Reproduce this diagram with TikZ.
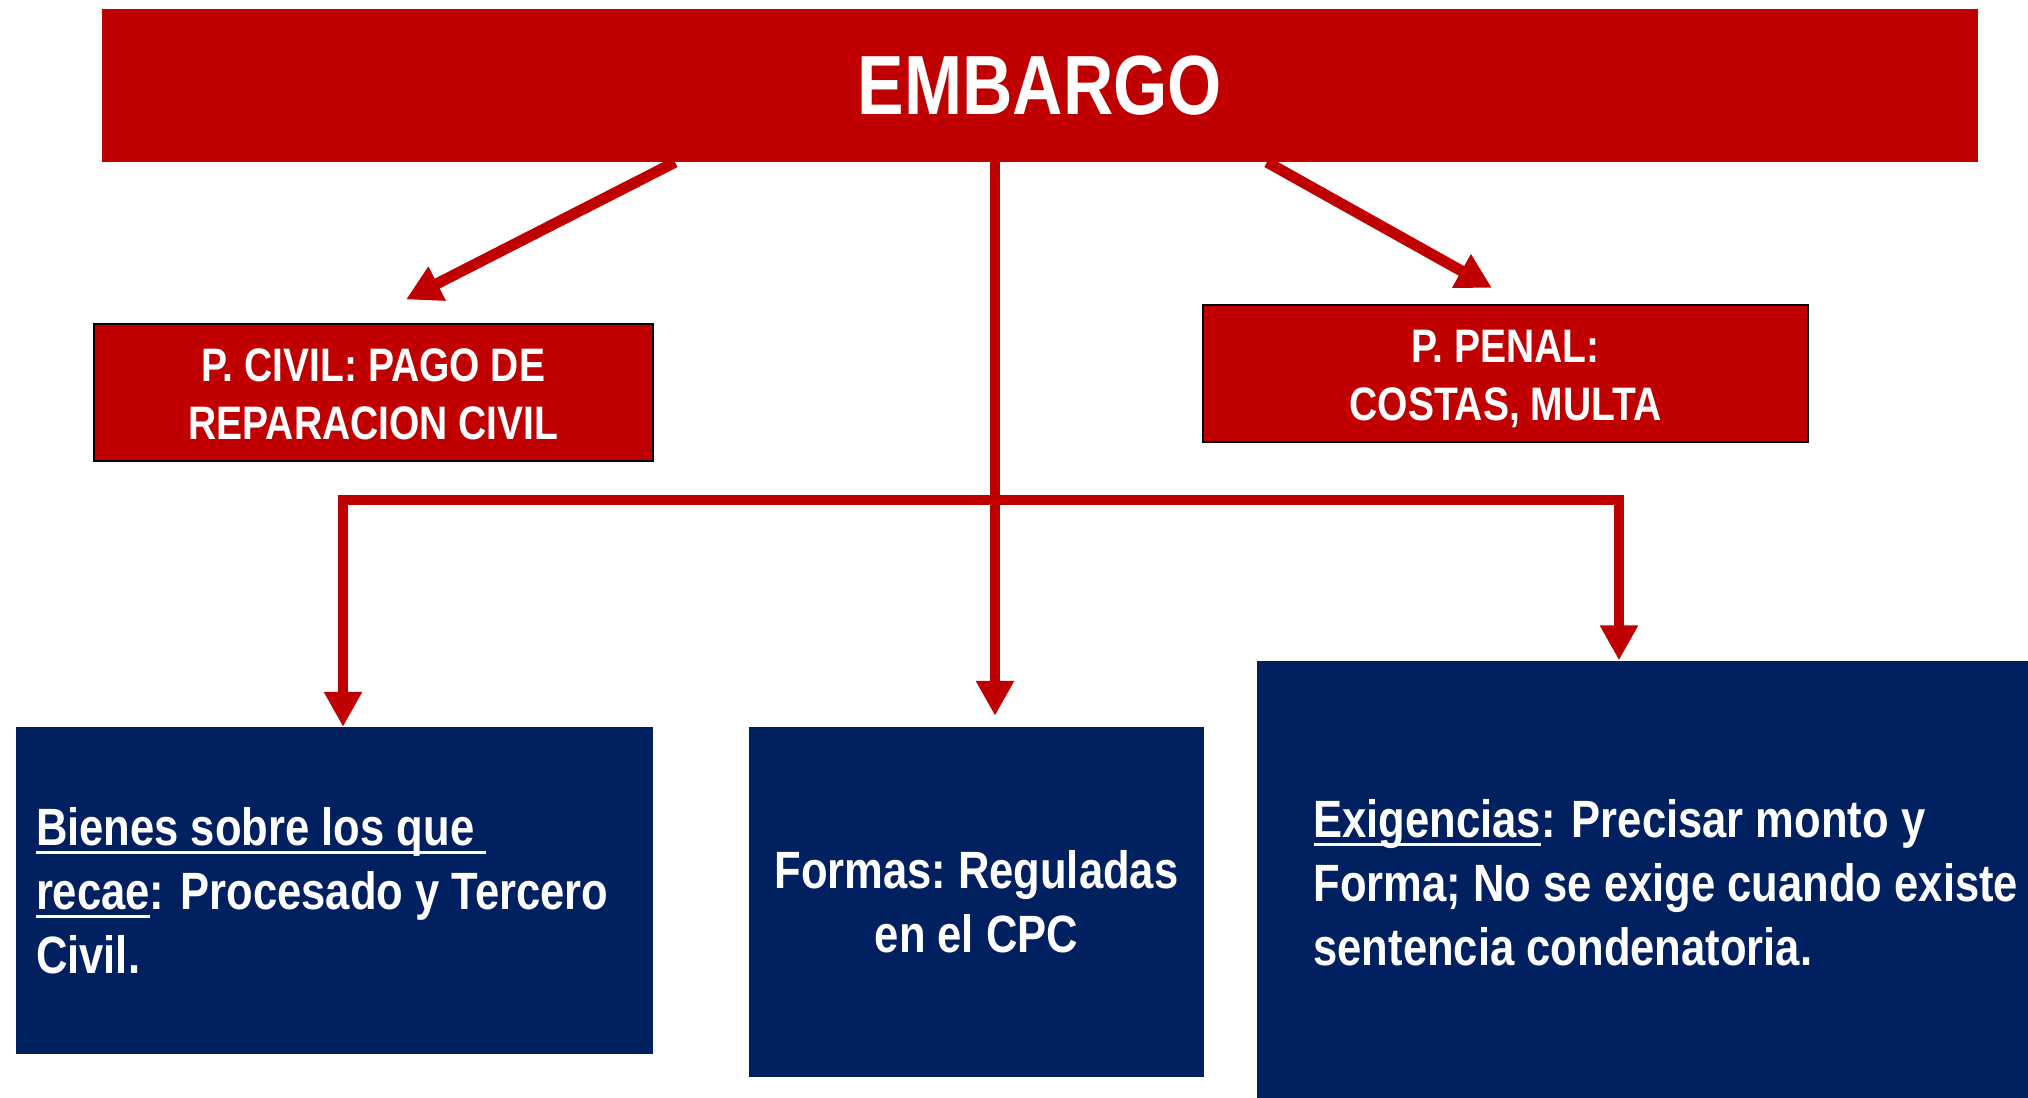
\documentclass[tikz,border=0pt]{standalone}
\usepackage{fontspec}
\setmainfont{Liberation Sans}[FakeStretch=0.83]
\usetikzlibrary{arrows.meta}
\definecolor{ered}{HTML}{C00000}
\definecolor{enavy}{HTML}{002060}
\newcommand{\myul}[1]{\setbox0\hbox{#1}\rlap{\rule[-9pt]{\wd0}{3pt}}\box0}
\begin{document}
\begin{tikzpicture}[x=1pt,y=-1pt,
  topbox/.style={fill=ered, inner sep=0pt, text=white, font=\bfseries\fontsize{84}{100}\selectfont},
  redbox/.style={fill=ered, draw=black, line width=2pt, inner sep=0pt, text=white, align=center, font=\bfseries\fontsize{47}{58}\selectfont},
  bluebox/.style={fill=enavy, inner sep=0pt, text=white, align=center, font=\bfseries\fontsize{52.5}{64}\selectfont},
  bluetxt/.style={inner sep=0pt, text=white, align=left, font=\bfseries\fontsize{52.5}{64}\selectfont},
  arrd/.style={draw=ered, line width=11pt, -{Triangle[length=35pt,width=36pt]}},
  arrv/.style={draw=ered, line width=10pt, -{Triangle[length=35pt,width=36pt]}},
  arrvv/.style={draw=ered, line width=10pt, {Triangle[length=35pt,width=36pt]}-{Triangle[length=35pt,width=36pt]}}]
\useasboundingbox (0,0) rectangle (2028,1097);
\node[topbox, minimum width=1876pt, minimum height=153pt] (top) at (1040,85.5) {EMBARGO};
\node[redbox, minimum width=559pt, minimum height=137pt] (civil) at (373.5,392) {\rule{0pt}{38pt}P. CIVIL: PAGO DE\\REPARACION CIVIL};
\node[redbox, minimum width=605pt, minimum height=137pt] (penal) at (1505.5,373.5) {\rule{0pt}{43pt}P. PENAL:\\COSTAS, MULTA};
\node[bluebox, minimum width=637pt, minimum height=327pt] (b1) at (334.5,890.5) {};
\node[bluebox, minimum width=455pt, minimum height=350pt] (b2) at (976.5,902) {Formas:\hspace{0.22em}Reguladas\\en el CPC};
\node[bluebox, minimum width=772pt, minimum height=437pt] (b3) at (1642.5,879) {};
\node[bluetxt, anchor=west] (b1t) at ([xshift=20pt]b1.west) {\myul{Bienes sobre los que }\\\myul{recae}: Procesado y Tercero\\Civil.};
\node[bluetxt, anchor=west] (b3t) at ([xshift=57pt,yshift=-3.5pt]b3.west) {\myul{Exigencias}: Precisar monto y\\Forma; No se exige cuando existe\\sentencia condenatoria.};
\coordinate (bar) at (995,500);
\draw[arrd] ([xshift=-365pt]top.south) -- ([xshift=32.5pt,yshift=23pt]civil.north);
\draw[arrd] ([xshift=227pt]top.south) -- ([xshift=-13.5pt,yshift=16pt]penal.north);
\draw[arrv] ([xshift=-45pt]top.south) -- ([xshift=18.5pt,yshift=11pt]b2.north);
\draw[arrvv] ([xshift=8.5pt]b1.north) |- (bar) -| ([xshift=-23.5pt]b3.north);
\end{tikzpicture}
\end{document}
